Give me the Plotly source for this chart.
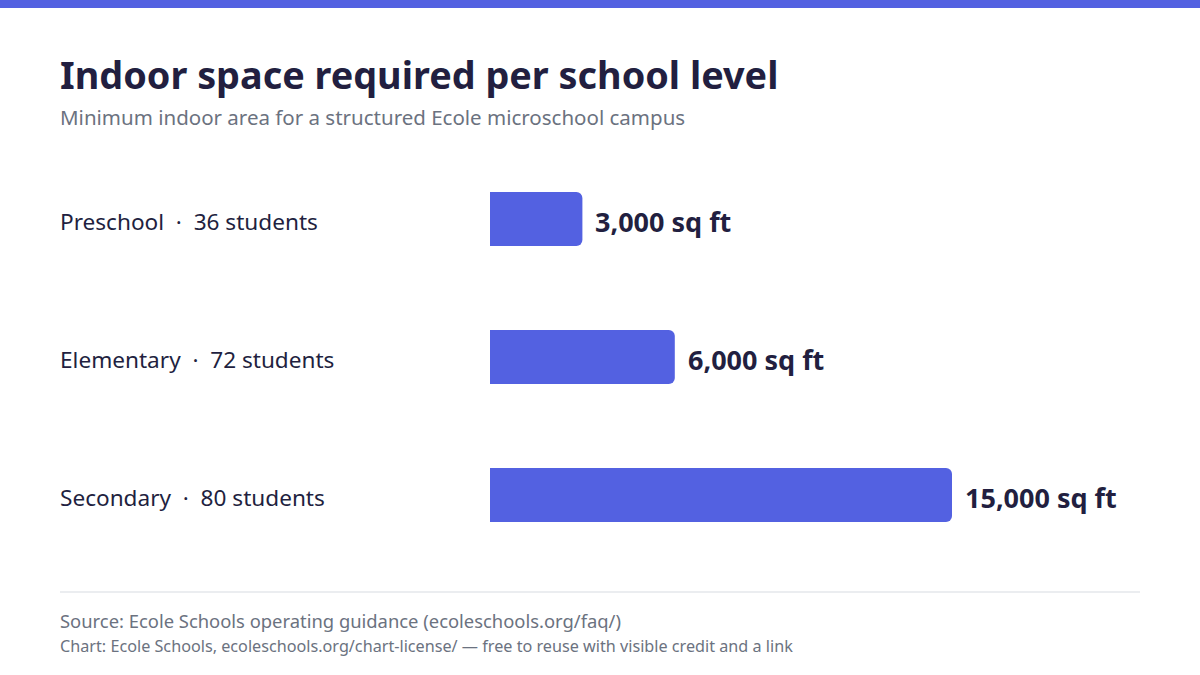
import plotly.graph_objects as go

levels = ["Preschool", "Elementary", "Secondary"]
students = [36, 72, 80]
area_sqft = [3000, 6000, 15000]

W, H = 1200, 675
L, R, T, B = 490, 60, 150, 111
PW, PH = W - L - R, H - T - B

def px(x):
    return (x - L) / PW

def py(y):
    return (H - B - y) / PH

ACCENT = "#5361E1"
DARK = "#221F40"
GRAY = "#6B7280"
FONT = "Noto Sans"

fig = go.Figure()
fig.add_trace(go.Bar(
    x=area_sqft, y=levels, orientation="h",
    marker=dict(color=ACCENT, cornerradius=6, line=dict(width=0)),
    hoverinfo="skip",
))

ann = []
for lv, st, a in zip(levels, students, area_sqft):
    ann.append(dict(x=px(60), xref="paper", y=lv, yref="y", xanchor="left", yanchor="middle",
                    xshift=-2, yshift=-2, text=f"{lv}  ·  {st} students", showarrow=False,
                    font=dict(family=FONT, size=22.6, color=DARK)))
    ann.append(dict(x=a, xref="x", y=lv, yref="y", xanchor="left", yanchor="middle",
                    xshift=11, yshift=-2, text=f"<b>{a:,} sq ft</b>", showarrow=False,
                    font=dict(family=FONT, size=27, color=DARK)))

ann += [
    dict(x=px(60), y=py(74), xref="paper", yref="paper", xanchor="left", yanchor="middle",
         xshift=-2, text="<b>Indoor space required per school level</b>", showarrow=False,
         font=dict(family=FONT, size=37.8, color=DARK)),
    dict(x=px(60), y=py(117), xref="paper", yref="paper", xanchor="left", yanchor="middle",
         xshift=-2, text="Minimum indoor area for a structured Ecole microschool campus", showarrow=False,
         font=dict(family=FONT, size=20.5, color=GRAY)),
    dict(x=px(60), y=py(620), xref="paper", yref="paper", xanchor="left", yanchor="middle",
         xshift=-2, text="Source: Ecole Schools operating guidance (ecoleschools.org/faq/)", showarrow=False,
         font=dict(family=FONT, size=18.4, color=GRAY)),
    dict(x=px(60), y=py(646), xref="paper", yref="paper", xanchor="left", yanchor="middle",
         xshift=-2,
         text="Chart: Ecole Schools, ecoleschools.org/chart-license/ — free to reuse with visible credit and a link",
         showarrow=False, font=dict(family=FONT, size=16.2, color=GRAY)),
]

shapes = [
    dict(type="rect", xref="paper", yref="paper", x0=px(0), x1=px(W), y0=py(0), y1=py(8),
         fillcolor=ACCENT, line=dict(width=0), layer="below"),
    dict(type="line", xref="paper", yref="paper", x0=px(60), x1=px(1140), y0=py(592), y1=py(592),
         line=dict(color="#E5E7EB", width=1.5)),
]

fig.update_layout(
    width=W, height=H,
    margin=dict(l=L, r=R, t=T, b=B, pad=0),
    paper_bgcolor="white", plot_bgcolor="white",
    showlegend=False,
    bargap=0.61,
    xaxis=dict(range=[0, 15000 * PW / 462], visible=False, fixedrange=True),
    yaxis=dict(categoryorder="array", categoryarray=levels, autorange="reversed",
               visible=False, fixedrange=True),
    annotations=ann, shapes=shapes,
)

fig.write_html("out.html", config={"displayModeBar": False},
               post_script="document.body.style.margin='0';document.body.style.padding='0';")
